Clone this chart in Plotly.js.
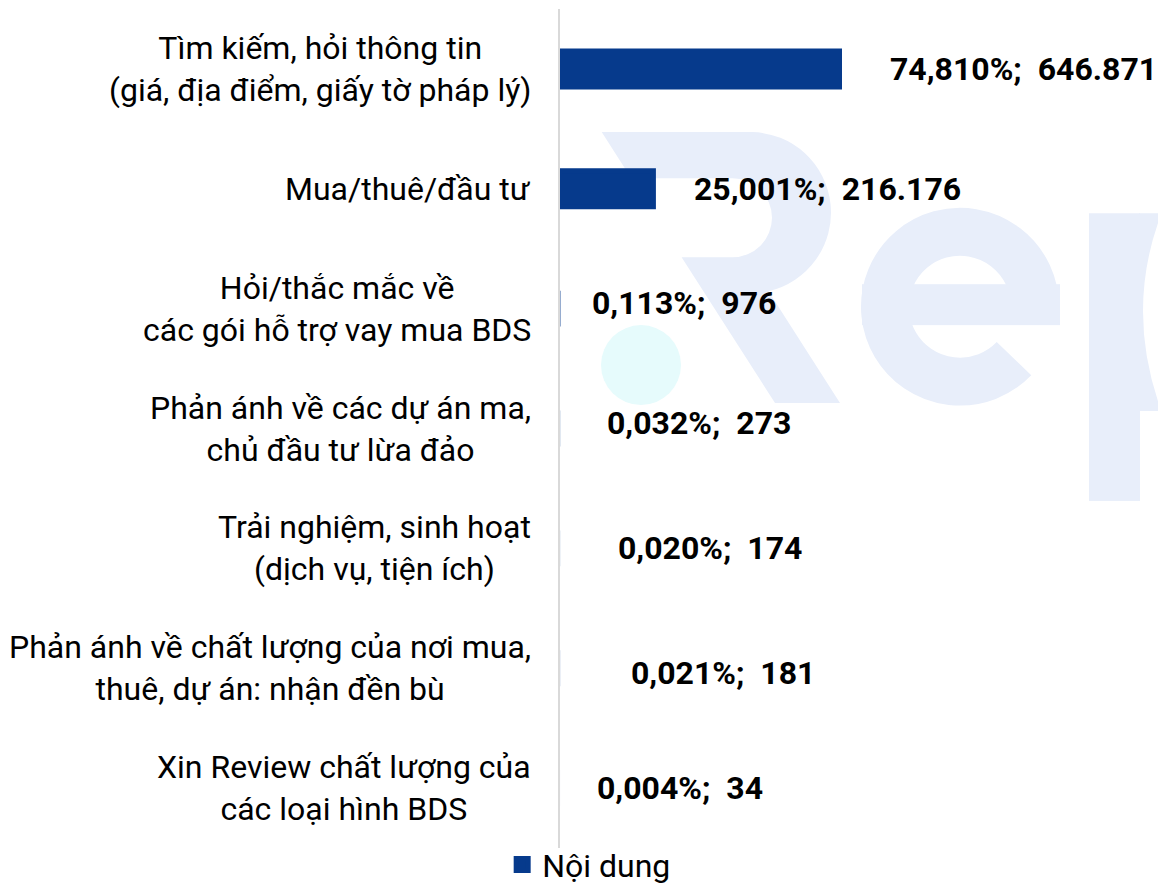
<!DOCTYPE html>
<html>
<head>
<meta charset="utf-8">
<script src="https://cdn.plot.ly/plotly-3.0.1.min.js"></script>
<style>
  html, body { margin: 0; padding: 0; background: #ffffff; }
  #chart { width: 1158px; height: 885px; }
</style>
</head>
<body>
<div id="chart"></div>
<script>
// ---- data ----
const categories = [
  "Tìm kiếm, hỏi thông tin<br>(giá, địa điểm, giấy tờ pháp lý)",
  "Mua/thuê/đầu tư",
  "Hỏi/thắc mắc về<br>các gói hỗ trợ vay mua BDS",
  "Phản ánh về các dự án ma,<br>chủ đầu tư lừa đảo",
  "Trải nghiệm, sinh hoạt<br>(dịch vụ, tiện ích)",
  "Phản ánh về chất lượng của nơi mua,<br>thuê, dự án: nhận đền bù",
  "Xin Review chất lượng của<br>các loại hình BDS"
];
const shares = [74.810, 25.001, 0.113, 0.032, 0.020, 0.021, 0.004];
const counts = [646871, 216176, 976, 273, 174, 181, 34];
const seriesName = "Nội dung";

// ---- styling (label placement offsets, px) ----
const labelShiftX = [48, 39, 30, 45, 56, 69, 35];
const labelShiftY = [0, 0, 6, 6, 0, -5, 0];

const BAR_COLOR = "#063a8c";
const FONT = "Roboto, 'Noto Sans', sans-serif";

function fmtShare(v) { return v.toFixed(3).replace(".", ",") + "%"; }
function fmtCount(v) { return String(v).replace(/\B(?=(\d{3})+(?!\d))/g, "."); }

const annotations = [];
categories.forEach((c, i) => {
  annotations.push({
    xref: "paper", yref: "y", x: 0, y: c,
    xanchor: "right", yanchor: "middle", xshift: -27,
    text: c, showarrow: false, align: "center",
    font: { family: FONT, size: 32, color: "#000000" }
  });
  annotations.push({
    xref: "x", yref: "y", x: shares[i], y: c,
    xanchor: "left", yanchor: "middle",
    xshift: labelShiftX[i], yshift: labelShiftY[i],
    text: fmtShare(shares[i]) + ";\u00a0 " + fmtCount(counts[i]),
    showarrow: false,
    font: { family: FONT, size: 32, color: "#000000", weight: 700 }
  });
});

// watermark logo behind the plot (drawn in figure pixel coordinates)
const WM = "#e8eefa";
const wm = "<svg xmlns='http://www.w3.org/2000/svg' width='598' height='840' viewBox='0 0 598 840'>" +
  "<g transform='translate(-560,-8.5)'>" +
  "<path fill='" + WM + "' d='M 601.7 131.7 L 752 131.7 A 80.7 80.7 0 0 1 768.5 291 L 840 403 L 775 403 L 681.6 257 L 732.5 257 A 39.5 39.5 0 0 0 732.5 178 L 631.2 178 Z'/>" +
  "<path fill='none' stroke='" + WM + "' stroke-width='48' d='M 1035 306.5 A 75 75 0 1 0 1014 358.6'/>" +
  "<rect fill='" + WM + "' x='862' y='284' width='198' height='41'/>" +
  "<rect fill='" + WM + "' x='1089' y='213' width='51' height='288'/>" +
  "<path fill='" + WM + "' d='M 1139 213 L 1160 213 L 1160 217 Q 1126 310 1160 407 L 1160 411 L 1139 411 Z'/>" +
  "<circle cx='641' cy='365' r='40' fill='#e6fbfc'/>" +
  "</g></svg>";
const wmSrc = "data:image/svg+xml;charset=utf-8," + encodeURIComponent(wm);

const trace = {
  type: "bar",
  orientation: "h",
  y: categories,
  x: shares,
  name: seriesName,
  marker: {
    color: BAR_COLOR,
    line: { width: 5, color: shares.map(v => v > 1 ? BAR_COLOR : "rgba(0,0,0,0)") }
  },
  showlegend: true,
  hoverinfo: "none"
};

const layout = {
  width: 1158, height: 885,
  margin: { l: 560, r: 0, t: 8.5, b: 36.5, autoexpand: false },
  paper_bgcolor: "#ffffff",
  plot_bgcolor: "rgba(0,0,0,0)",
  bargap: 0.7,
  font: { family: FONT, size: 32, color: "#000000" },
  xaxis: {
    range: [0, 160.06], showgrid: false, zeroline: false,
    showticklabels: false, ticks: "", showline: false, fixedrange: true
  },
  yaxis: {
    type: "category", autorange: "reversed",
    showgrid: false, zeroline: false, showticklabels: false, ticks: "",
    showline: true, linecolor: "#d9d9d9", linewidth: 2, fixedrange: true
  },
  showlegend: true,
  legend: {
    orientation: "h", x: -0.0967, xanchor: "left", y: 0.0128, yanchor: "top",
    font: { family: FONT, size: 32, color: "#000000" },
    bgcolor: "rgba(0,0,0,0)"
  },
  annotations: annotations,
  images: [{
    source: wmSrc, xref: "paper", yref: "paper",
    x: 0, y: 1, sizex: 1, sizey: 1, xanchor: "left", yanchor: "top",
    sizing: "stretch", layer: "below"
  }]
};

Plotly.newPlot("chart", [trace], layout, { displayModeBar: false, staticPlot: true });
</script>
</body>
</html>
